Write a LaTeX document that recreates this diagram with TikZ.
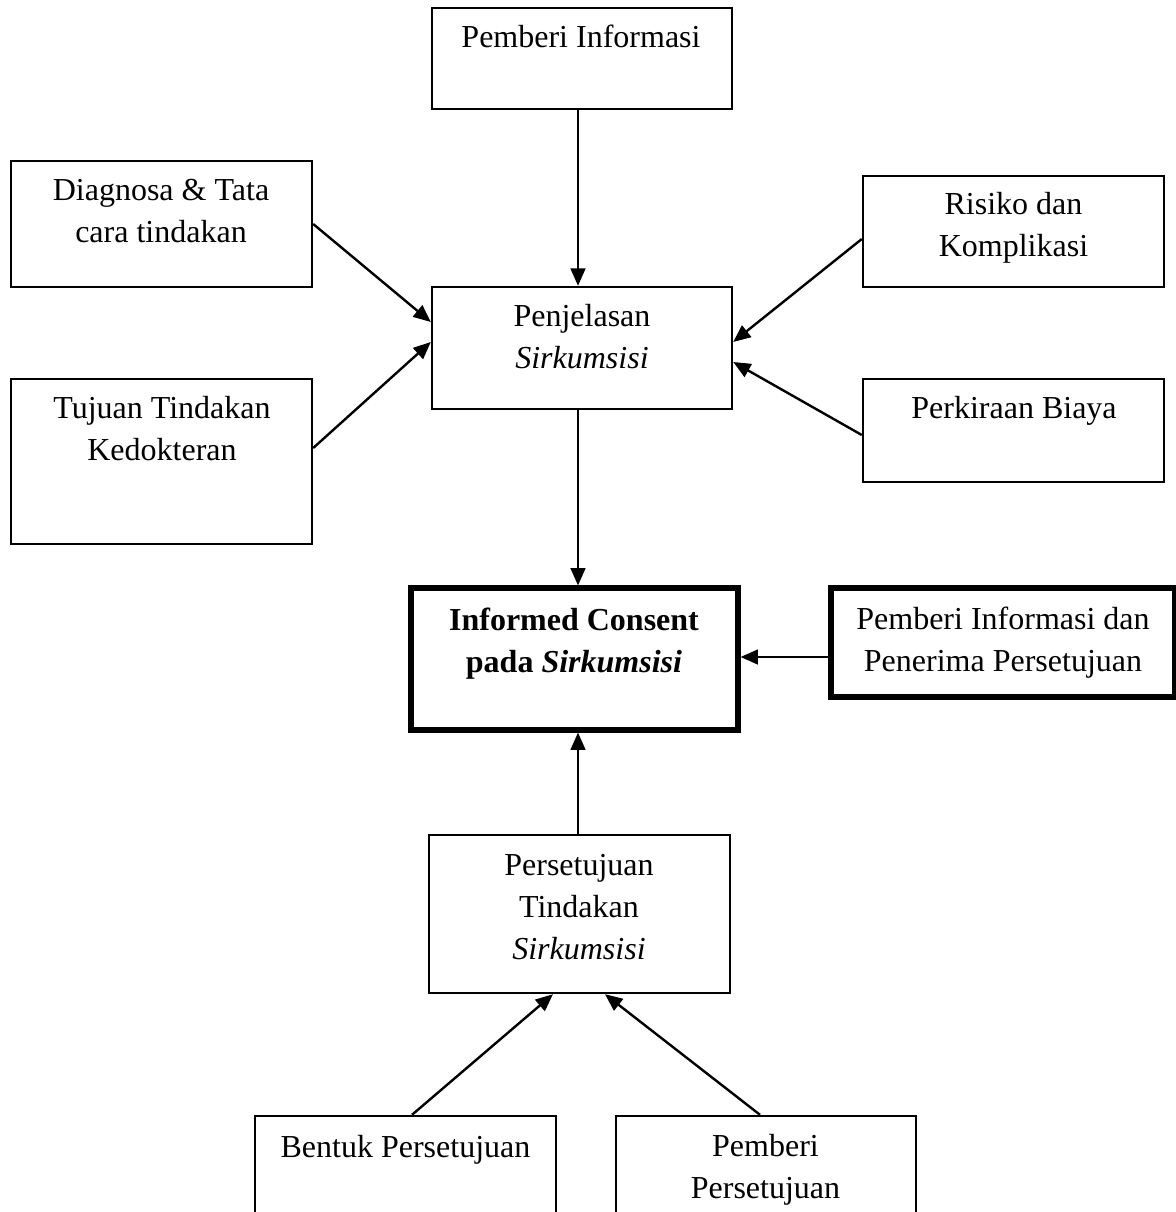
\documentclass[tikz,border=0pt]{standalone}
\usepackage{fontspec}
\setmainfont{Liberation Serif}
\usetikzlibrary{arrows.meta,fit,calc}
\newcommand\mylines[1]{\begin{tabular}[t]{@{}c@{}}#1\end{tabular}}
\begin{document}
\begin{tikzpicture}[x=0.375pt,y=-0.375pt,
  box/.style={draw, line width=0.9pt, inner sep=0pt},
  boldbox/.style={draw, line width=1.9pt, inner sep=0pt},
  txt/.style={anchor=base, inner sep=0pt, font=\fontsize{12pt}{15.75pt}\selectfont},
  arr/.style={-{Triangle[length=6.5pt,width=5.5pt]}, line width=0.9pt}]
\useasboundingbox (0,0) rectangle (1176,1212);
\clip (0,0) rectangle (1176,1212);
\fill[white] (0,0) rectangle (1176,1212);

% boxes
\node[box, fit={(432,8) (732,109)}] (pi) {};
\node[box, fit={(11,161) (312,287)}] (diag) {};
\node[box, fit={(11,379) (312,544)}] (tuj) {};
\node[box, fit={(863,176) (1164,287)}] (ris) {};
\node[box, fit={(863,379) (1164,482)}] (pk) {};
\node[box, fit={(432,287) (732,409)}] (pj) {};
\node[boldbox, fit={(411,588) (738,730)}] (ic) {};
\node[boldbox, fit={(831,588) (1175,697)}] (pipp) {};
\node[box, fit={(429,835) (730,993)}] (ps) {};
\node[box, fit={(255,1116) (556,1225)}] (bentuk) {};
\node[box, fit={(616,1116) (916,1225)}] (pp) {};

% texts
\node[txt] (piT) at (581,48) {\mylines{Pemberi Informasi}};
\node[txt] (diagT) at (161,201) {\mylines{Diagnosa \& Tata\\cara tindakan}};
\node[txt] (tujT) at (162,418) {\mylines{Tujuan Tindakan\\Kedokteran}};
\node[txt] (risT) at (1013.5,215) {\mylines{Risiko dan\\Komplikasi}};
\node[txt] (pkT) at (1014,418) {\mylines{Perkiraan Biaya}};
\node[txt] (pjT) at (582,327) {\mylines{Penjelasan\\\textit{Sirkumsisi}}};
\node[txt] (icT) at (574,630) {\mylines{\textbf{Informed Consent}\\\textbf{pada \textit{Sirkumsisi}}}};
\node[txt] (pippT) at (1003,629) {\mylines{Pemberi Informasi dan\\Penerima Persetujuan}};
\node[txt] (psT) at (579,875) {\mylines{Persetujuan\\Tindakan\\\textit{Sirkumsisi}}};
\node[txt] (bentukT) at (405.5,1157) {\mylines{Bentuk Persetujuan}};
\node[txt] (ppT) at (765.5,1156) {\mylines{Pemberi\\Persetujuan}};

% connectors
\draw[arr] ($(pi.south)+(-4,0)$) -- ($(pj.north)+(-4,0)$);
\draw[arr] (diag.east) -- ($(pj.west)+(0,-26)$);
\draw[arr] ($(tuj.east)+(0,-13.5)$) -- ($(pj.west)+(0,-6)$);
\draw[arr] ($(ris.west)+(0,7.5)$) -- ($(pj.east)+(0,-6)$);
\draw[arr] ($(pk.west)+(0,4.5)$) -- ($(pj.east)+(0,14)$);
\draw[arr] ($(pj.south)+(-4,0)$) -- ($(ic.north)+(3.5,0)$);
\draw[arr] ($(pipp.west)+(0,14.5)$) -- ($(ic.east)+(0,-2)$);
\draw[arr] ($(ps.north)+(-1.5,0)$) -- ($(ic.south)+(3.5,0)$);
\draw[arr] ($(bentuk.north)+(6.5,0)$) -- ($(ps.south)+(-26.5,0)$);
\draw[arr] ($(pp.north)+(-6,0)$) -- ($(ps.south)+(25.5,0)$);
\end{tikzpicture}
\end{document}
